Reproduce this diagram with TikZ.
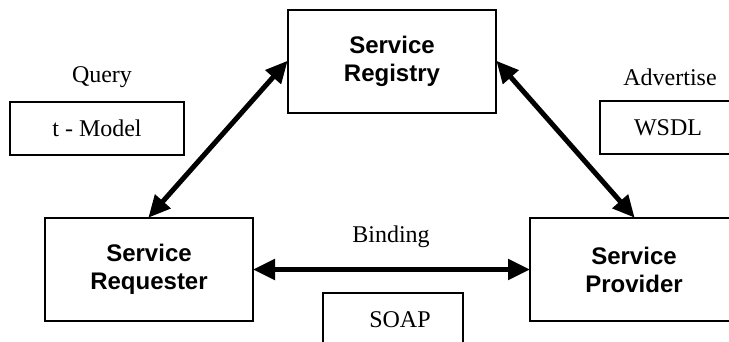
\documentclass[tikz,border=0pt]{standalone}
\usepackage{fontspec}
\setmainfont{Liberation Serif}
\newfontfamily\boxfont{Liberation Sans}
\usetikzlibrary{arrows.meta}
\tikzset{
  mainbox/.style={draw, line width=2pt, fill=white, minimum width=208pt, minimum height=103pt,
    align=center, font=\boxfont\bfseries\fontsize{24}{28}\selectfont, inner sep=0pt},
  tagbox/.style={draw, line width=2pt, fill=white, minimum height=53pt, inner sep=0pt,
    font=\fontsize{24}{28}\selectfont},
  lbl/.style={font=\fontsize{24}{28}\selectfont, inner sep=0pt},
  conn/.style={line width=5pt, {Triangle[length=22pt,width=20pt]}-{Triangle[length=22pt,width=20pt]}, shorten <=-1pt, shorten >=-1pt}
}
\begin{document}
\begin{tikzpicture}[x=1pt,y=-1pt]
\useasboundingbox (0,0) rectangle (729,342);
\clip (0,0) rectangle (729,342);
\node[mainbox] (reg) at (392,61.5) {Service\\Registry};
\node[mainbox] (req) at (149,269.5) {Service\\Requester};
\node[mainbox] (prov) at (634,269.5) {Service\\Provider};
\node[tagbox, minimum width=174pt] (tm) at (97,128.5) {t - Model};
\node[tagbox, minimum width=136pt] (wsdl) at (668,128) {WSDL};
\node[tagbox, minimum width=140pt, minimum height=54pt] (soap) at (393,320) {\hspace*{14pt}SOAP};
\node[lbl] (q) at (102,77) {Query};
\node[lbl] (adv) at (670,77) {Advertise};
\node[lbl] (bind) at (391,237) {Binding};
\draw[conn] (req.north) -- (reg.west);
\draw[conn] (reg.east) -- (prov.north);
\draw[conn] (req.east) -- (prov.west);
\end{tikzpicture}
\end{document}
